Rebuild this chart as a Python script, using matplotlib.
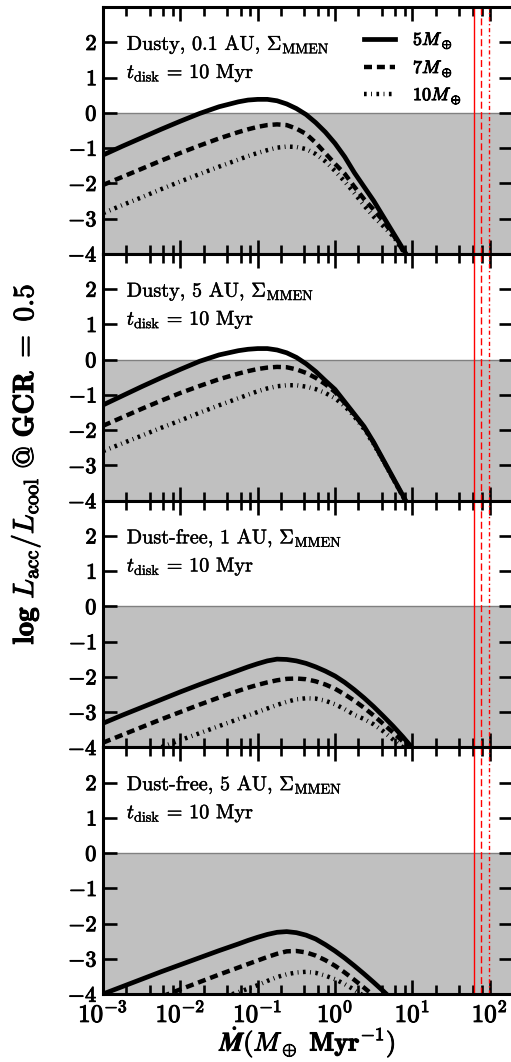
import numpy as np
import matplotlib
matplotlib.use("Agg")
import matplotlib.pyplot as plt
import matplotlib.patheffects as pe
from matplotlib.ticker import LogLocator, NullFormatter, FuncFormatter, FixedLocator

plt.rcParams['mathtext.fontset'] = 'cm'
plt.rcParams['font.family'] = 'serif'
plt.rcParams['font.serif'] = ['cmr10']
plt.rcParams['axes.formatter.use_mathtext'] = True

# log10 of accretion rate (M_earth / Myr) where the curves were read
log_mdot = [-3, -2.75, -2.5, -2.25, -2, -1.75, -1.5, -1.25, -1.125, -1, -0.875, -0.75, -0.625,
            -0.5, -0.375, -0.25, -0.125, 0, 0.125, 0.25, 0.375, 0.5, 0.625, 0.75, 0.875, 1]

# panel 1 : dusty, 0.1 AU
p1_5me = [-1.20, -0.95, -0.71, -0.47, -0.24, -0.02, 0.17, 0.31, 0.36, 0.38, 0.38, 0.34, 0.25,
          0.12, -0.05, -0.28, -0.55, -0.87, -1.25, -1.70, -2.10, -2.50, -2.95, -3.40, -3.85, -4.30]
p1_7me = [-2.05, -1.82, -1.59, -1.36, -1.14, -0.93, -0.73, -0.55, -0.47, -0.40, -0.35, -0.33, -0.35,
          -0.45, -0.60, -0.85, -1.15, -1.45, -1.73, -2.10, -2.45, -2.75, -3.07, -3.45, -3.90, -4.35]
p1_10me = [-2.85, -2.62, -2.40, -2.17, -1.95, -1.74, -1.53, -1.33, -1.23, -1.14, -1.06, -0.99, -0.96,
           -0.97, -1.03, -1.17, -1.38, -1.65, -1.95, -2.28, -2.63, -2.95, -3.22, -3.50, -3.90, -4.35]
# panel 2 : dusty, 5 AU
p2_5me = [-1.29, -1.03, -0.77, -0.52, -0.28, -0.05, 0.13, 0.25, 0.29, 0.31, 0.31, 0.27, 0.19,
          0.06, -0.12, -0.34, -0.60, -0.85, -1.20, -1.55, -1.90, -2.35, -2.85, -3.35, -3.85, -4.35]
p2_7me = [-1.88, -1.64, -1.40, -1.17, -0.95, -0.75, -0.56, -0.40, -0.33, -0.27, -0.23, -0.21, -0.22,
          -0.28, -0.38, -0.52, -0.70, -0.92, -1.23, -1.57, -1.92, -2.37, -2.87, -3.37, -3.87, -4.37]
p2_10me = [-2.60, -2.38, -2.16, -1.94, -1.73, -1.51, -1.30, -1.10, -1.00, -0.90, -0.82, -0.76, -0.73,
           -0.73, -0.77, -0.84, -0.95, -1.10, -1.32, -1.62, -1.97, -2.40, -2.88, -3.38, -3.88, -4.40]
# panel 3 : dust-free, 1 AU
p3_5me = [-3.32, -3.09, -2.87, -2.65, -2.43, -2.22, -2.02, -1.82, -1.72, -1.63, -1.55, -1.50, -1.51,
          -1.55, -1.62, -1.72, -1.84, -1.98, -2.16, -2.37, -2.60, -2.85, -3.12, -3.40, -3.70, -4.02]
p3_7me = [-3.87, -3.65, -3.43, -3.21, -3.00, -2.79, -2.59, -2.40, -2.31, -2.23, -2.16, -2.10, -2.06,
          -2.05, -2.07, -2.13, -2.22, -2.34, -2.50, -2.68, -2.88, -3.10, -3.34, -3.58, -3.83, -4.10]
p3_10me = [-4.60, -4.40, -4.20, -4.00, -3.80, -3.60, -3.40, -3.20, -3.10, -3.00, -2.90, -2.80, -2.71,
           -2.64, -2.61, -2.62, -2.68, -2.78, -2.92, -3.08, -3.20, -3.35, -3.55, -3.78, -4.00, -4.25]
# panel 4 : dust-free, 5 AU
p4_5me = [-4.00, -3.79, -3.58, -3.37, -3.17, -2.97, -2.77, -2.58, -2.48, -2.39, -2.31, -2.25, -2.23,
          -2.26, -2.33, -2.44, -2.60, -2.78, -2.98, -3.20, -3.43, -3.67, -3.92, -4.18, -4.45, -4.70]
p4_7me = [-4.80, -4.58, -4.37, -4.08, -3.87, -3.66, -3.45, -3.25, -3.15, -3.05, -2.95, -2.86, -2.79,
          -2.78, -2.82, -2.91, -3.04, -3.20, -3.39, -3.60, -3.82, -4.05, -4.30, -4.55, -4.80, -5.05]
p4_10me = [-5.30, -5.10, -4.90, -4.70, -4.50, -4.30, -4.12, -3.95, -3.85, -3.75, -3.63, -3.52, -3.44,
           -3.39, -3.37, -3.40, -3.48, -3.58, -3.72, -3.88, -4.06, -4.25, -4.45, -4.65, -4.85, -5.05]

panel_text = [r'Dusty, 0.1 AU, $\Sigma_{\rm MMEN}$',
              r'Dusty, 5 AU, $\Sigma_{\rm MMEN}$',
              r'Dust-free, 1 AU, $\Sigma_{\rm MMEN}$',
              r'Dust-free, 5 AU, $\Sigma_{\rm MMEN}$']
panels = [(p1_5me, p1_7me, p1_10me), (p2_5me, p2_7me, p2_10me),
          (p3_5me, p3_7me, p3_10me), (p4_5me, p4_7me, p4_10me)]
mass_labels = [r'$\mathbf{5}\boldsymbol{M_\oplus}$', r'$\mathbf{7}\boldsymbol{M_\oplus}$',
               r'$\mathbf{10}\boldsymbol{M_\oplus}$']
red_lines = [62, 77, 97]
red_styles = ['-', (0, (5, 2.5)), (0, (3, 2, 1, 2))]

styles = [dict(ls='-', lw=3.4), dict(ls=(0, (1.8, 1.1)), lw=3.2),
          dict(ls=(0, (0.6, 1.0, 0.2, 1.0)), lw=3.2)]

bold = [pe.withStroke(linewidth=0.7, foreground='black')]
semi = [pe.withStroke(linewidth=0.3, foreground='black')]

mdot = 10.0 ** np.array(log_mdot)

fig, axes = plt.subplots(4, 1, figsize=(5.11, 10.62), dpi=100, sharex=True)
fig.subplots_adjust(left=103/511, right=513/511, top=1-7/1062, bottom=1-994/1062, hspace=0)

for i, ax in enumerate(axes):
    ax.axhspan(-4, 0, color='#c0c0c0', lw=0, zorder=0)
    ax.axhline(0, color='#808080', lw=1, zorder=1)
    for j, curve in enumerate(panels[i]):
        ax.plot(mdot, curve, color='k', label=mass_labels[j], zorder=3, **styles[j])
    for xv, st in zip(red_lines, red_styles):
        ax.axvline(xv, color='red', lw=1, ls=st, zorder=2)
    ax.set_xscale('log')
    ax.set_xlim(1e-3, 2e2)
    ax.set_ylim(-4, 3)
    ax.yaxis.set_major_locator(FixedLocator([-4, -3, -2, -1, 0, 1, 2]))
    ax.yaxis.set_major_formatter(FuncFormatter(lambda v, p: r'$\mathbf{%d}$' % v))
    ax.xaxis.set_major_locator(LogLocator(base=10, numticks=20))
    ax.xaxis.set_minor_locator(LogLocator(base=10, subs=(2, 4, 6, 8), numticks=20))
    ax.xaxis.set_minor_formatter(NullFormatter())
    ax.xaxis.set_major_formatter(FuncFormatter(lambda v, p: r'$\mathbf{10^{%d}}$' % round(np.log10(v))))
    ax.tick_params(which='both', direction='in', top=True, right=True, width=1.9)
    ax.tick_params(which='major', length=10)
    ax.tick_params(which='minor', length=6.5)
    ax.tick_params(axis='y', labelsize=16, pad=4)
    ax.tick_params(axis='x', labelsize=18, pad=5)
    for lab in ax.get_yticklabels() + ax.get_xticklabels():
        lab.set_path_effects(bold)
    for s in ax.spines.values():
        s.set_linewidth(2.2)
    ax.text(0.058, 0.826, panel_text[i], transform=ax.transAxes, fontsize=14.5, va='baseline',
            path_effects=semi)
    ax.text(0.058, 0.712, r'$t_{\rm disk}$ = 10 Myr', transform=ax.transAxes, fontsize=14.5,
            va='baseline', path_effects=semi)

leg = axes[0].legend(loc='upper right', bbox_to_anchor=(0.915, 0.97), frameon=False, fontsize=13,
                     handlelength=1.7, handletextpad=1.0, labelspacing=0.45)
for t in leg.get_texts():
    t.set_path_effects(bold)

xl = axes[-1].set_xlabel(r'$\dot{\boldsymbol{M}}\mathbf{(}\boldsymbol{M_\oplus}\ \mathbf{Myr^{-1})}$',
                         fontsize=19, labelpad=-1)
xl.set_path_effects(bold)
fig.text(0.049, 0.563, r'$\mathbf{log}\ \boldsymbol{L_{\rm acc}/L_{\rm cool}}\ \mathbf{@\ GCR\ =\ 0.5}$',
         rotation=90, ha='center', va='center', fontsize=21, path_effects=bold)

fig.savefig('out.png', dpi=100)
